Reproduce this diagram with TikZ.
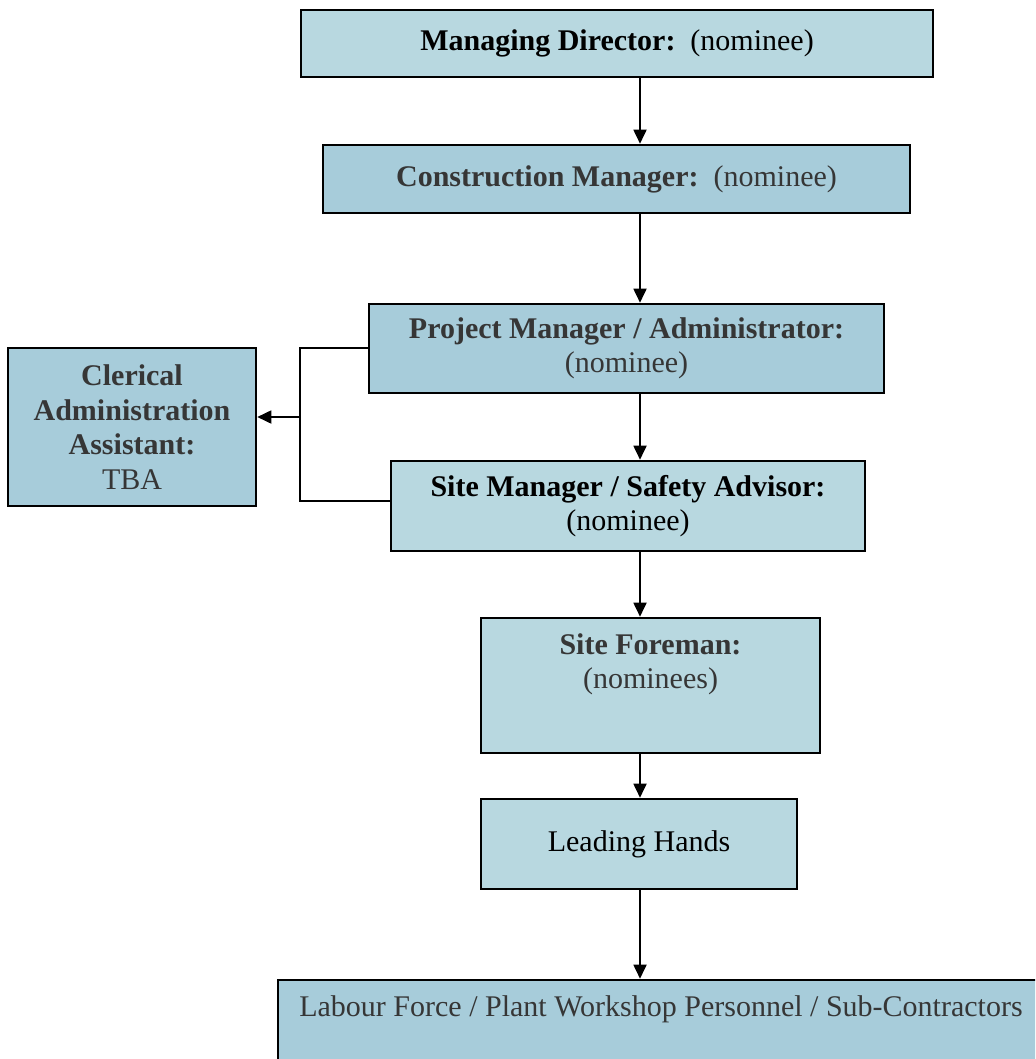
\documentclass[tikz,border=0pt]{standalone}
\usepackage{fontspec}
\setmainfont{Liberation Serif}
\usetikzlibrary{arrows.meta}
\definecolor{boxlight}{HTML}{B8D8E0}
\definecolor{boxdark}{HTML}{A7CCDA}
\definecolor{txtgray}{HTML}{363636}
\begin{document}
\begin{tikzpicture}[x=1pt,y=-1pt,
  box/.style={draw=black, line width=2.6pt, rectangle, inner sep=0pt, align=center,
    font=\fontsize{30}{34.5}\selectfont},
  light/.style={box, fill=boxlight},
  dark/.style={box, fill=boxdark},
  txt/.style={inner sep=0pt, align=center, font=\fontsize{30}{34.5}\selectfont},
  arr/.style={line width=1.8pt, -{Triangle[length=14pt,width=13pt]}},
  ln/.style={line width=1.8pt}]
\path[use as bounding box, clip] (0,0) rectangle (1035,1059);
\fill[white] (0,0) rectangle (1035,1059);

\node[light, minimum width=632pt, minimum height=67pt] (md) at (617,43.5)
  {\textbf{Managing Director:}\ \ (nominee)};
\node[dark, text=txtgray, minimum width=587pt, minimum height=68pt] (cm) at (616.5,179)
  {\textbf{Construction Manager:}\ \ (nominee)};
\node[dark, text=txtgray, minimum width=515pt, minimum height=89pt] (pm) at (626.5,348.5)
  {\textbf{Project Manager / Administrator:}\\(nominee)};
\node[dark, text=txtgray, minimum width=248pt, minimum height=158pt] (cl) at (132,427)
  {\textbf{Clerical}\\\textbf{Administration}\\\textbf{Assistant:}\\TBA};
\node[light, minimum width=474pt, minimum height=90pt] (sm) at (628,506)
  {\textbf{Site Manager / Safety Advisor:}\\(nominee)};
\node[light, minimum width=339pt, minimum height=135pt] (sf) at (650.5,685.5) {};
\node[txt, text=txtgray] (sft) at (650.5,664.5) {\textbf{Site Foreman:}\\(nominees)};
\node[light, minimum width=316pt, minimum height=90pt] (lh) at (639,844) {Leading Hands};
\node[dark, minimum width=767pt, minimum height=90pt] (lf) at (661.5,1025) {};
\node[txt, text=txtgray] (lft) at (661,1009) {Labour Force / Plant Workshop Personnel / Sub-Contractors};

\coordinate (ax) at (640,0);
\draw[arr] (ax |- md.south) -- (ax |- cm.north);
\draw[arr] (ax |- cm.south) -- (ax |- pm.north);
\draw[arr] (ax |- pm.south) -- (ax |- sm.north);
\draw[arr] (ax |- sm.south) -- (ax |- sf.north);
\draw[arr] (ax |- sf.south) -- (ax |- lh.north);
\draw[arr] (ax |- lh.south) -- (ax |- lf.north);

\coordinate (bx) at (300,0);
\coordinate (pmj) at (pm.west |- 0,348);
\coordinate (smj) at (sm.west |- 0,501);
\draw[ln] (pmj) -- (bx |- pmj) -- (bx |- smj) -- (smj);
\coordinate (clj) at (bx |- 0,417);
\draw[arr] (clj) -- (cl.east |- clj);
\end{tikzpicture}
\end{document}
